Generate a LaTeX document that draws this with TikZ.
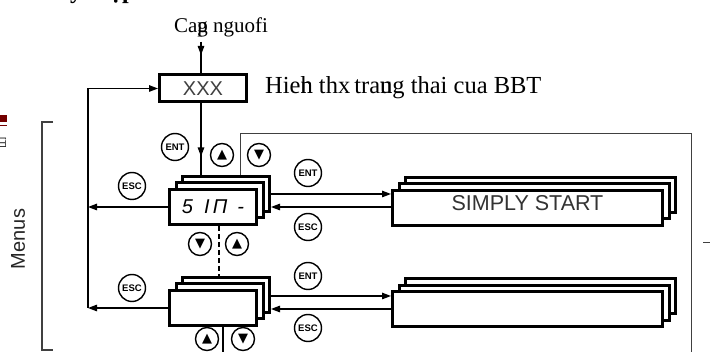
\documentclass[tikz,border=0pt]{standalone}
\usepackage{fontspec}
\setmainfont{Liberation Serif}
\newfontfamily\lsans{Liberation Sans}
\newfontfamily\djv{DejaVu Sans}
\usetikzlibrary{arrows.meta,decorations.markings}
\begin{document}
\begin{tikzpicture}[x=1pt,y=-1pt,
  box/.style={draw, line width=3pt, fill=white, inner sep=0pt, minimum height=35pt},
  smallbox/.style={box, minimum width=87pt},
  widebox/.style={box, minimum width=270pt},
  conn/.style={line width=1.3pt},
  arr/.style={conn, -{Triangle[length=9pt,width=6.5pt]}},
  frameline/.style={line width=1pt, black!75},
  btn/.style={circle, draw, line width=1.4pt, inner sep=0pt, minimum size=27pt, font=\lsans\bfseries\fontsize{9.5}{9.5}\selectfont},
  abtn/.style={circle, draw, line width=1.4pt, inner sep=0pt, minimum size=23pt, font=\djv\fontsize{13}{13}\selectfont},
  midarrow/.style={postaction={decorate}, decoration={markings, mark=at position #1 with {\arrow{Triangle[length=9pt,width=6.5pt]}}}}
]
\useasboundingbox (0,0) rectangle (710,352);

% clipped title fragment and page edge marks
\node[anchor=base west, inner sep=0pt, font=\bfseries\fontsize{24}{24}\selectfont] (t1) at (70,-1) {y};
\node[anchor=base west, inner sep=0pt, font=\bfseries\fontsize{24}{24}\selectfont] (t2) at (110,-1) {ập};
\fill[red!45!black] (0,115) rectangle (7,122);
\draw[red!45!black, line width=0.6pt] (0,125) -- (7,125);
\node[rotate=-90, inner sep=0pt, font=\lsans\fontsize{9}{9}\selectfont] (edge) at (2,143) {[T]};

% texts
\node[anchor=base, inner sep=0pt, font=\fontsize{21}{21}\selectfont] (cap) at (221,33) {Ca\rlap{g}p nguofi};
\node[anchor=base west, inner sep=0pt, font=\fontsize{24.5}{24.5}\selectfont] (hien) at (265,94) {Hie\rlap{h}n thx\,tra\rlap{u}ng thai cua BBT};
\node[rotate=90, inner sep=0pt, font=\lsans\fontsize{20}{20}\selectfont, black!85] (menus) at (18,239) {Menus};

% XXX box
\node[draw, line width=3pt, fill=white, minimum width=87pt, minimum height=27pt, inner sep=0pt,
      font=\lsans\fontsize{20}{20}\selectfont, text=black!75] (xxx) at (203,88.5) {XXX};

% stacks
\node[smallbox] (s1b) at (226,194) {};
\node[smallbox] (s1m) at (219.5,200.5) {};
\node[smallbox, font=\lsans\itshape\fontsize{20}{20}\selectfont] (s1f) at (213,207) {5\hspace{11pt}I\,Π\hspace{10pt}-};

\node[widebox] (ssb) at (540.5,195) {};
\node[widebox] (ssm) at (534,201.5) {};
\node[widebox, font=\lsans\fontsize{21.5}{21.5}\selectfont, text=black!80, text depth=10pt] (ssf) at (527.5,208) {SIMPLY START};

\node[smallbox] (s2b) at (226,295) {};
\node[smallbox] (s2m) at (219.5,301.5) {};
\node[smallbox] (s2f) at (213,308) {};

\node[widebox] (lrb) at (540.5,296.5) {};
\node[widebox] (lrm) at (534,303) {};
\node[widebox] (lrf) at (527.5,309.5) {};

% buttons
\node[btn] (ent1) at (175,147) {ENT};
\node[abtn] (up1) at (222,155) {▲};
\node[abtn] (dn1) at (259,155) {▼};
\node[btn] (esc1) at (132,186) {ESC};
\node[btn] (ent2) at (308,173) {ENT};
\node[btn] (esc2) at (308,227) {ESC};
\node[abtn] (dn2) at (200,244) {▼};
\node[abtn] (up2) at (237,244) {▲};
\node[btn] (esc3) at (132,288) {ESC};
\node[btn] (ent3) at (308,276) {ENT};
\node[btn] (esc4) at (308,328) {ESC};
\node[abtn] (up3) at (207,339) {▲};
\node[abtn] (dn3) at (243,339) {▼};

% coordinates
\coordinate (top) at (201,42);
\coordinate (Lb) at (88,308);
\coordinate (R0) at (240,134);
\coordinate (R1) at (691,134);
\coordinate (R2) at (691,352);
\coordinate (B) at (223,352);

% connectors
\draw[conn] (top) -- (top |- xxx.north);
\draw[arr] (top) -- ++(0,13);
\draw[conn, midarrow=0.74] (xxx.south -| top) -- (s1b.north -| top);
\draw[arr] (Lb) -- (Lb |- xxx.west) -- (xxx.west);
\draw[arr] (s1f.west) -- (s1f.west -| Lb);
\draw[arr] (s2f.west) -- (s2f.west -| Lb);
\draw[frameline] (s1b.north -| R0) -- (R0) -- (R1) -- (R2);
\draw[arr] (s1b.east |- 0,194) -- (ssf.west |- 0,194);
\draw[arr] (ssf.west |- 0,207) -- (s1b.east |- 0,207);
\draw[arr] (s2b.east |- 0,296) -- (lrf.west |- 0,296);
\draw[arr] (lrf.west |- 0,309) -- (s2b.east |- 0,309);
\draw[conn, dash pattern=on 5pt off 3pt] (s1f.south -| 219,0) -- (s2b.north -| 219,0);
\draw[conn] (s2f.south -| B) -- (B);

% Menus bracket and right tick
\draw[frameline, line width=1.2pt] (53,122) -- (42,122) -- (42,350) -- (53,350);
\draw[frameline] (703,243) -- (710,243);
\end{tikzpicture}
\end{document}
